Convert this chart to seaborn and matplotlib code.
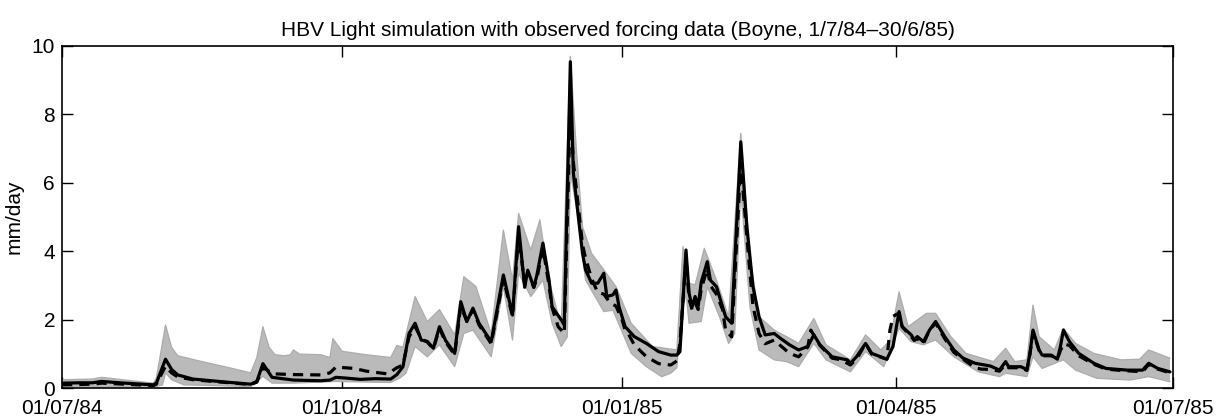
import numpy as np
import pandas as pd
import matplotlib
matplotlib.use("Agg")
import matplotlib.pyplot as plt
import matplotlib.dates as mdates
import seaborn as sns

# ---------------- data (day offset from 1 July 1984, mm/day) ----------------
start = pd.Timestamp("1984-07-01")

obs_day = [0, 6, 10, 13, 19, 26, 30, 31, 34, 36, 38, 43, 49, 54, 62, 64, 66, 68, 69, 76,
           85, 88, 90, 93, 98, 103, 108, 110, 112, 114, 116, 118, 120, 122, 124, 126, 129,
           131, 133, 135, 137, 141, 145, 148, 150, 152, 153, 155, 156, 158, 160, 161, 164,
           165, 167, 168, 170, 171, 172, 174, 176, 178, 179, 181, 182, 183, 185, 188, 192,
           196, 200, 202, 203, 205, 206, 207, 208, 209, 210, 212, 213, 215, 217, 218, 220,
           223, 225, 227, 229, 231, 234, 236, 239, 242, 245, 247, 249, 253, 258, 259, 261,
           264, 266, 271, 273, 275, 276, 279, 280, 281, 283, 285, 287, 290, 293, 296, 300,
           305, 308, 310, 311, 315, 317, 318, 319, 321, 322, 325, 327, 328, 329, 331, 334,
           339, 343, 350, 355, 357, 360, 364]
obs_val = [0.15, 0.16, 0.16, 0.20, 0.16, 0.12, 0.10, 0.15, 0.85, 0.55, 0.39, 0.27, 0.22, 0.18,
           0.12, 0.20, 0.72, 0.45, 0.32, 0.24, 0.22, 0.24, 0.32, 0.30, 0.26, 0.28, 0.27, 0.40,
           0.63, 1.60, 1.90, 1.41, 1.37, 1.17, 1.80, 1.40, 1.02, 2.53, 1.95, 2.34, 1.90, 1.36,
           3.31, 2.14, 4.72, 2.95, 3.45, 2.95, 3.30, 4.24, 3.16, 2.38, 2.00, 1.85, 9.54, 6.28,
           4.72, 3.94, 3.46, 3.07, 3.07, 3.36, 2.68, 2.73, 2.87, 2.38, 1.80, 1.51, 1.31, 1.07,
           0.97, 0.97, 1.07, 4.04, 2.78, 2.38, 2.68, 2.40, 3.10, 3.70, 3.16, 2.97, 2.38, 2.09,
           1.90, 7.20, 4.72, 2.97, 2.09, 1.56, 1.60, 1.46, 1.27, 1.12, 1.22, 1.56, 1.27, 0.92,
           0.83, 0.73, 0.92, 1.31, 1.02, 0.85, 1.22, 2.24, 1.80, 1.56, 1.41, 1.51, 1.36, 1.70,
           1.95, 1.51, 1.12, 0.88, 0.73, 0.65, 0.53, 0.78, 0.63, 0.63, 0.55, 1.02, 1.70, 1.12,
           0.97, 0.97, 0.85, 1.22, 1.70, 1.36, 1.02, 0.73, 0.58, 0.53, 0.53, 0.73, 0.58, 0.48]

sim_day = [0, 10, 13, 20, 30, 31, 34, 36, 38, 43, 54, 62, 64, 66, 68, 70, 76, 85, 88, 90,
           96, 100, 107, 110, 112, 114, 116, 118, 120, 122, 124, 126, 129, 131, 133, 135, 137,
           141, 145, 148, 150, 152, 153, 155, 156, 158, 160, 161, 163, 165, 167, 168, 170, 171,
           172, 174, 176, 178, 180, 182, 184, 185, 186, 188, 192, 196, 200, 202, 203, 205, 206,
           207, 208, 209, 210, 212, 213, 215, 217, 218, 220, 223, 225, 227, 229, 231, 234, 236,
           239, 242, 245, 246, 249, 253, 256, 259, 261, 264, 266, 271, 272, 273, 275, 276, 279,
           280, 281, 283, 285, 287, 290, 293, 296, 300, 302, 305, 308, 310, 311, 315, 317, 318,
           319, 321, 322, 325, 327, 328, 329, 331, 334, 339, 343, 348, 352, 355, 357, 360, 364]
sim_val = [0.10, 0.12, 0.15, 0.12, 0.08, 0.12, 0.65, 0.45, 0.33, 0.25, 0.17, 0.11, 0.18, 0.60,
           0.50, 0.42, 0.40, 0.39, 0.45, 0.62, 0.58, 0.50, 0.42, 0.60, 0.68, 1.50, 1.80, 1.45,
           1.35, 1.15, 1.75, 1.35, 0.98, 2.40, 1.95, 2.30, 1.85, 1.30, 3.20, 2.10, 4.50, 3.00,
           3.40, 2.95, 3.20, 4.10, 3.00, 2.35, 1.80, 1.60, 8.20, 6.60, 5.00, 4.20, 3.80, 3.20,
           2.80, 2.75, 2.50, 2.40, 2.00, 1.70, 1.60, 1.27, 0.92, 0.72, 0.68, 0.80, 1.30, 3.80,
           2.60, 2.30, 2.50, 2.30, 2.90, 3.50, 3.00, 2.75, 2.30, 1.70, 1.50, 6.60, 4.40, 2.40,
           1.60, 1.30, 1.41, 1.25, 1.02, 0.92, 1.20, 1.70, 1.25, 0.88, 0.83, 0.68, 0.85, 1.30,
           1.00, 0.85, 1.70, 2.10, 2.20, 1.80, 1.50, 1.40, 1.45, 1.30, 1.70, 1.90, 1.45, 1.05,
           0.85, 0.60, 0.56, 0.55, 0.50, 0.70, 0.60, 0.60, 0.52, 1.00, 1.65, 1.10, 0.95, 0.95,
           0.85, 1.10, 1.30, 1.25, 0.95, 0.70, 0.56, 0.52, 0.50, 0.48, 0.70, 0.56, 0.45]

# ensemble (grey) envelope
ens_hi_day = [0, 10, 13, 20, 30, 31, 34, 36, 38, 45, 55, 62, 64, 66, 68, 70, 73, 75, 76, 78,
              85, 88, 89, 92, 100, 108, 110, 112, 116, 120, 124, 129, 132, 136, 141, 145, 148,
              150, 154, 157, 160, 164, 167, 169, 171, 174, 178, 182, 187, 194, 202, 204, 206,
              208, 211, 215, 219, 223, 226, 229, 234, 238, 242, 247, 251, 259, 264, 269, 272,
              275, 278, 284, 287, 292, 297, 306, 310, 313, 317, 319, 321, 326, 329, 333, 339,
              348, 354, 357, 364]
ens_hi = [0.25, 0.27, 0.32, 0.25, 0.15, 0.30, 1.85, 1.20, 0.95, 0.80, 0.60, 0.45, 0.90, 1.80,
          1.20, 0.98, 0.95, 0.98, 1.12, 1.00, 0.98, 0.90, 1.45, 1.08, 0.98, 0.90, 1.25, 1.20,
          2.68, 1.95, 2.30, 1.56, 3.26, 2.97, 1.60, 4.62, 3.16, 5.11, 4.04, 4.92, 3.16, 1.80,
          9.70, 6.96, 4.72, 3.94, 3.46, 2.97, 1.90, 1.22, 1.12, 4.14, 3.07, 3.02, 4.09, 3.16,
          2.09, 7.45, 3.85, 2.09, 1.70, 1.51, 1.31, 2.04, 1.27, 0.83, 1.56, 1.12, 1.40, 2.82,
          1.80, 2.19, 2.19, 1.51, 1.02, 0.78, 1.17, 0.78, 0.83, 2.43, 1.51, 1.12, 1.75, 1.31,
          1.02, 0.83, 0.85, 1.12, 0.88]
ens_lo_day = [0, 30, 33, 34, 36, 40, 62, 66, 69, 76, 90, 100, 108, 111, 113, 116, 120, 124,
              129, 132, 135, 141, 145, 148, 150, 154, 158, 161, 164, 166, 167, 169, 172, 178,
              181, 187, 192, 197, 200, 202, 203, 205, 206, 210, 212, 216, 219, 221, 223, 226,
              229, 234, 238, 242, 247, 251, 259, 264, 270, 275, 279, 283, 287, 293, 301, 308,
              310, 317, 319, 322, 329, 333, 340, 351, 357, 364]
ens_lo = [0.05, 0.03, 0.10, 0.45, 0.25, 0.10, 0.05, 0.35, 0.15, 0.15, 0.20, 0.18, 0.17, 0.30,
          0.44, 1.22, 0.92, 1.27, 0.63, 1.60, 1.70, 0.92, 2.97, 1.41, 3.36, 2.68, 3.16, 1.90,
          1.22, 1.50, 6.30, 5.30, 3.16, 2.24, 2.28, 1.02, 0.63, 0.34, 0.44, 0.60, 1.90, 2.78,
          1.90, 1.95, 2.97, 2.09, 1.31, 1.60, 5.80, 2.38, 1.12, 0.83, 0.78, 0.63, 1.31, 0.83,
          0.48, 1.07, 0.63, 1.75, 1.36, 1.27, 1.41, 0.92, 0.48, 0.34, 0.44, 0.34, 0.92, 0.58,
          0.83, 0.53, 0.29, 0.24, 0.34, 0.19]

x_ticks = ["1984-07-01", "1984-10-01", "1985-01-01", "1985-04-01", "1985-07-01"]
y_ticks = [0, 2, 4, 6, 8, 10]
title = "HBV Light simulation with observed forcing data (Boyne, 1/7/84\u201330/6/85)"
ylabel = "mm/day"

# ---------------- plotting ----------------
sns.set_style("white")
plt.rcParams["font.family"] = ["Liberation Sans", "DejaVu Sans"]
plt.rcParams["text.color"] = "black"
plt.rcParams["axes.labelcolor"] = "black"

def to_dates(days):
    return start + pd.to_timedelta(np.asarray(days, dtype=float), unit="D")

fig = plt.figure(figsize=(12.21, 4.18), dpi=100)
ax = fig.add_axes([0.0508, 0.0711, 0.9099, 0.8189])

hi_d = to_dates(ens_hi_day)
lo_d = to_dates(ens_lo_day)
poly_x = np.concatenate([mdates.date2num(hi_d), mdates.date2num(lo_d)[::-1]])
poly_y = np.concatenate([np.asarray(ens_hi), np.asarray(ens_lo)[::-1]])
ax.fill(poly_x, poly_y, color="#bababa", lw=0, zorder=1)
ax.plot(hi_d, ens_hi, color="#acacac", lw=0.9, zorder=1.5)
ax.plot(lo_d, ens_lo, color="#acacac", lw=0.9, zorder=1.5)

sns.lineplot(x=to_dates(sim_day), y=sim_val, ax=ax, color="black", lw=2.3,
             linestyle=(0, (3.2, 2.2)), zorder=3)
sns.lineplot(x=to_dates(obs_day), y=obs_val, ax=ax, color="black", lw=2.3, zorder=4)

ax.set_xlim(pd.Timestamp(x_ticks[0]), pd.Timestamp(x_ticks[-1]))
ax.set_ylim(0, 10)
ax.set_xticks([pd.Timestamp(t) for t in x_ticks])
ax.xaxis.set_major_formatter(mdates.DateFormatter("%d/%m/%y"))
ax.set_yticks(y_ticks)
ax.set_yticklabels([str(v) for v in y_ticks])

ax.tick_params(direction="in", length=8, width=1, labelsize=15, top=True, right=True,
               bottom=True, left=True, color="black", labelcolor="black")
ax.tick_params(axis="x", pad=8)
ax.tick_params(axis="y", pad=5)
for s in ax.spines.values():
    s.set_visible(True)
    s.set_color("black")
    s.set_linewidth(1.2)

ax.set_title(title, fontsize=15, pad=7, color="black")
ax.set_ylabel(ylabel, fontsize=15, labelpad=6, color="black")
ax.set_xlabel("")

fig.savefig("out.png", dpi=100)
